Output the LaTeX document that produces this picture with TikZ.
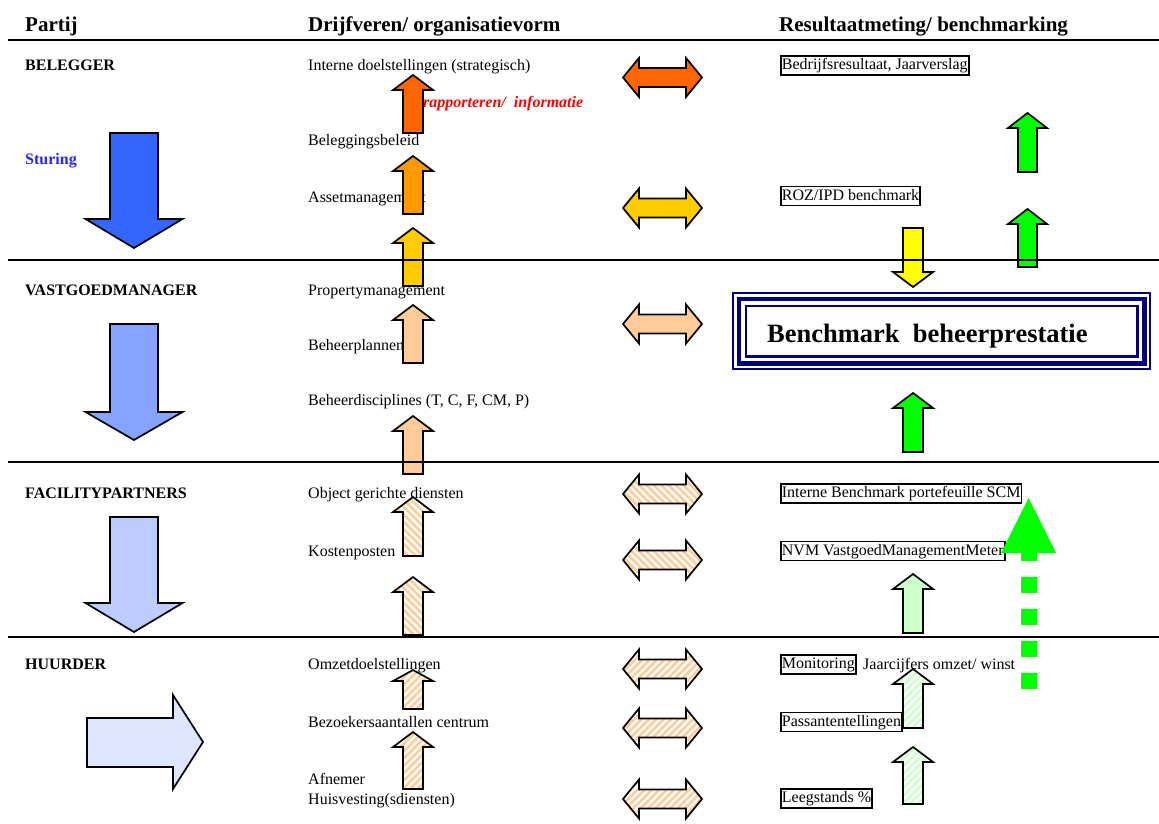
\documentclass[tikz,border=0pt]{standalone}
\usepackage{fontspec}
\setmainfont{Liberation Serif}
\usetikzlibrary{patterns.meta}

\definecolor{redorange}{HTML}{FF6600}
\definecolor{orangeA}{HTML}{FF9900}
\definecolor{goldA}{HTML}{FFCC00}
\definecolor{peach}{HTML}{FFCC99}
\definecolor{yellowA}{HTML}{FFFF00}
\definecolor{greenA}{HTML}{00FF00}
\definecolor{paleGreen}{HTML}{CCFFCC}
\definecolor{blueA}{HTML}{3366FF}
\definecolor{blueB}{HTML}{85A3FF}
\definecolor{blueC}{HTML}{BCCCFF}
\definecolor{blueD}{HTML}{DDE5FF}
\definecolor{navyA}{HTML}{000080}
\definecolor{sturingBlue}{HTML}{2626FF}

% block arrow pointing up: style, centre x, tip y, head base y, bottom y, shaft half width, head half width
\newcommand{\blkup}[7]{\path[#1] (#2-#6,#5) -- (#2-#6,#4) -- (#2-#7,#4) -- (#2,#3) -- (#2+#7,#4) -- (#2+#6,#4) -- (#2+#6,#5) -- cycle;}
% block arrow pointing down: style, centre x, top y, head base y, tip y, shaft half width, head half width
\newcommand{\blkdown}[7]{\path[#1] (#2-#6,#3) -- (#2-#6,#4) -- (#2-#7,#4) -- (#2,#5) -- (#2+#7,#4) -- (#2+#6,#4) -- (#2+#6,#3) -- cycle;}
% small up arrow: style, centre x, tip y, bottom y
\newcommand{\smallup}[4]{\blkup{#1}{#2}{#3}{#3+15}{#4}{10}{20}}
% left-right double arrow of the middle column: style, centre y
\newcommand{\blkdbl}[2]{\path[#1] (623,#2) -- (639,#2-19.5) -- (639,#2-9.5) -- (686,#2-9.5) -- (686,#2-19.5) -- (702,#2) -- (686,#2+19.5) -- (686,#2+9.5) -- (639,#2+9.5) -- (639,#2+19.5) -- cycle;}

\tikzset{
  txt/.style={font=\fontsize{16}{18}\selectfont, anchor=west, inner xsep=1pt, inner ysep=2pt,
              text height=11.5pt, text depth=3.5pt},
  party/.style={txt, font=\bfseries\fontsize{16}{18}\selectfont},
  boxed/.style={txt, draw, line width=1.8pt},
  colhead/.style={font=\bfseries\fontsize{21}{24}\selectfont, anchor=base west, inner sep=0pt},
  arr/.style={draw=black, line width=1.7pt, line join=miter},
  hatchA/.style={arr, preaction={fill=white}, pattern={Lines[angle=-45,distance=5.2pt,line width=2.6pt]}, pattern color=#1},
  hatchB/.style={arr, preaction={fill=white}, pattern={Lines[angle=45,distance=5.2pt,line width=2.6pt]}, pattern color=#1},
  rule/.style={line width=1.5pt},
}

\begin{document}
\begin{tikzpicture}[x=1pt,y=-1pt]
\useasboundingbox (0,0) rectangle (1159,824);

% column headings
\node[colhead] (hParty) at (25,32) {Partij};
\node[colhead] (hDrive) at (308,32) {Drijfveren/ organisatievorm};
\node[colhead] (hResult) at (779,32) {Resultaatmeting/ benchmarking};

% parties
\node[party] (pBel) at (24,66.5) {BELEGGER};
\node[party, text=sturingBlue] (pStur) at (24,160.5) {Sturing};
\node[party] (pVgm) at (24,291.5) {VASTGOEDMANAGER};
\node[party] (pFac) at (24,494.5) {FACILITYPARTNERS};
\node[party] (pHuu) at (24,665.5) {HUURDER};

% drivers / organisation
\node[txt] (d1) at (307,66.5) {Interne doelstellingen (strategisch)};
\node[txt] (d2) at (307,141.5) {Beleggingsbeleid};
\node[txt] (d3) at (307,198.5) {Assetmanagement};
\node[txt] (d4) at (307,291.5) {Propertymanagement};
\node[txt] (d5) at (307,346.5) {Beheerplannen};
\node[txt] (d6) at (307,401.5) {Beheerdisciplines (T, C, F, CM, P)};
\node[txt] (d7) at (307,494.5) {Object gerichte diensten};
\node[txt] (d8) at (307,552.5) {Kostenposten};
\node[txt] (d9) at (307,665.5) {Omzetdoelstellingen};
\node[txt] (d10) at (307,723.5) {Bezoekersaantallen centrum};
\node[txt] (d11) at (307,780.5) {Afnemer};
\node[txt] (d12) at (307,800.5) {Huisvesting(sdiensten)};

% results / benchmarking
\node[boxed] (r1) at (780,65.5) {Bedrijfsresultaat, Jaarverslag};
\node[boxed] (r2) at (780,196) {ROZ/IPD benchmark};
\node[boxed] (r3) at (780,493.5) {Interne Benchmark portefeuille SCM};
\node[boxed] (r4) at (780,551) {NVM VastgoedManagementMeter};
\node[boxed] (r5) at (780,664.5) {Monitoring};
\node[boxed] (r6) at (780,722) {Passantentellingen};
\node[boxed] (r7) at (780,798.5) {Leegstands \%};

% steering arrows, left column
\blkdown{arr, fill=blueA}{134}{133}{219}{248}{24}{48.5}
\blkdown{arr, fill=blueB}{134}{324}{412}{440}{24}{48.5}
\blkdown{arr, fill=blueC}{134}{517}{603}{632}{24}{48.5}
\path[arr, fill=blueD] (87,718) -- (173,718) -- (173,695) -- (203,742) -- (173,789) -- (173,767) -- (87,767) -- cycle;

% reporting arrows, middle column
\smallup{arr, fill=redorange}{413}{75}{133}
\smallup{arr, fill=orangeA}{413}{156}{214}
\smallup{arr, fill=goldA}{413}{228}{286}
\smallup{arr, fill=peach}{413}{305}{363}
\smallup{arr, fill=peach}{413}{416}{474}
\smallup{hatchA=peach}{413}{497}{556}
\smallup{hatchA=peach}{413}{577}{635}
\blkup{hatchB=peach}{413}{670}{681}{709}{10}{20}
\smallup{hatchB=peach}{413}{732}{789}

% two-way arrows between drivers and results
\blkdbl{arr, fill=redorange}{77.5}
\blkdbl{arr, fill=goldA}{208}
\blkdbl{arr, fill=peach}{324}
\blkdbl{hatchA=peach}{494}
\blkdbl{hatchA=peach}{560}
\blkdbl{hatchB=peach}{669}
\blkdbl{hatchB=peach}{728}
\blkdbl{hatchB=peach}{799}

% result arrows, right column
\blkup{arr, fill=greenA}{1027.5}{113}{128}{172}{9.5}{19.5}
\blkup{arr, fill=greenA}{1027.5}{209}{224}{267}{9.5}{19.5}
\blkdown{arr, fill=yellowA}{913}{228}{272}{287}{10}{20}
\blkup{arr, fill=greenA}{913}{393}{408}{452}{10}{20}
\blkup{arr, fill=paleGreen}{913}{574}{589}{633}{10}{20}
\blkup{hatchB=paleGreen}{913}{669}{684}{728}{10}{20}
\blkup{hatchB=paleGreen}{913}{747}{762}{804}{10}{20}

\node[txt] (r5b) at (862,665.5) {Jaarcijfers omzet/ winst};

% benchmark frame with triple border
\fill[navyA] (732,292) rectangle (1151,370);
\fill[white] (734,294) rectangle (1149,368);
\fill[navyA] (736.5,296.5) rectangle (1146.5,365.5);
\fill[white] (741,301) rectangle (1142,361);
\fill[navyA] (744.5,304.5) rectangle (1138.5,357.5);
\fill[white] (747,307) rectangle (1136,355);
\node[font=\bfseries\fontsize{26.5}{30}\selectfont, anchor=base west, inner sep=0pt] (bench) at (767,342) {Benchmark\ \ beheerprestatie};

% dashed green arrow
\draw[greenA, line width=16pt, dash pattern=on 16pt off 16pt] (1028.5,689) coordinate (gFoot) -- (1028.5,553) coordinate (gHead);
\fill[greenA] (1001,553) -- (1028.5,498) -- (1056,553) -- cycle;

% caption on the reporting arrows
\node[font=\bfseries\itshape\fontsize{16}{18}\selectfont, text=red, anchor=west, inner sep=0pt] (rap) at (423,104) {rapporteren/\ \ informatie};

% separators
\draw[line width=2pt] (8,40) -- (1159,40);
\draw[rule] (8,260) -- (1159,260);
\draw[rule] (8,462) -- (1159,462);
\draw[rule] (8,637) -- (1159,637);
\end{tikzpicture}
\end{document}
